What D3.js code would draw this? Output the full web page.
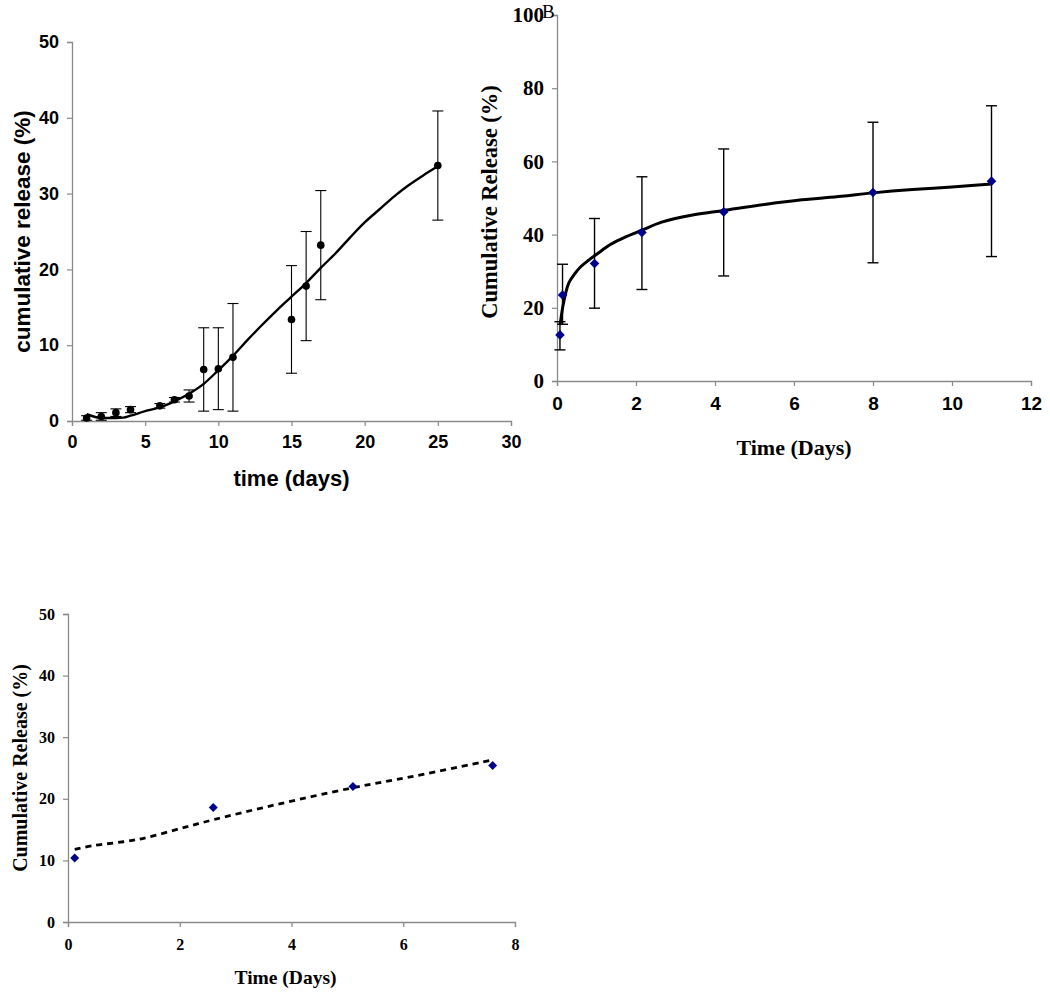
<!DOCTYPE html>
<html><head><meta charset="utf-8">
<script src="https://cdn.jsdelivr.net/npm/d3@7"></script>
<style>body{margin:0;background:#fff}svg{display:block}</style>
</head><body>
<script>
// ---------- Panel A data ----------
const aTimes   = [1, 2, 3, 4, 6, 7, 8, 9, 10, 11, 15, 16, 17, 25];
const aRelease = [0.4, 0.6, 1.1, 1.5, 2.0, 2.8, 3.3, 6.8, 6.9, 8.4, 13.4, 17.8, 23.2, 33.7];
const aError   = [0.3, 0.5, 0.5, 0.4, 0.3, 0.3, 0.8, 5.5, 5.4, 7.1, 7.1, 7.2, 7.2, 7.2];
const aFitX    = [1, 2, 3, 3.5, 4, 5, 6, 7, 8, 9, 10, 11, 12, 13, 14, 15, 16, 17, 18, 19, 20, 21, 22, 23, 24, 25];
const aFitY    = [0.9, 0.4, 0.4, 0.45, 0.7, 1.3, 1.8, 2.6, 3.6, 4.9, 6.7, 8.6, 10.7, 12.7, 14.6, 16.4, 18.2, 20.2, 22.1, 24.2, 26.2, 27.9, 29.6, 31.1, 32.4, 33.6];
const aXTicks  = [0, 5, 10, 15, 20, 25, 30];
const aYTicks  = [0, 10, 20, 30, 40, 50];

// ---------- Panel B data ----------
const bTimes   = [0.075, 0.14, 0.95, 2.15, 4.22, 8.0, 11.0];
const bRelease = [12.6, 23.5, 32.1, 40.6, 46.2, 51.5, 54.6];
const bErrLow  = [8.5, 15.5, 19.9, 25.0, 28.7, 32.3, 34.0];
const bErrHigh = [16.2, 31.9, 44.4, 55.8, 63.4, 70.7, 75.2];
const bFitX    = [0.08, 0.15, 0.22, 0.3, 0.45, 0.6, 0.8, 0.95, 1.15, 1.35, 1.7, 2.15, 2.65, 3.4, 4.22, 5.3, 6.2, 7.2, 8.0, 9.0, 10.0, 11.0];
const bFitY    = [15.5, 20.5, 24.0, 26.8, 29.3, 31.2, 33.0, 34.2, 35.8, 37.3, 39.2, 41.2, 43.4, 45.3, 46.6, 48.3, 49.5, 50.5, 51.4, 52.3, 53.0, 53.8];
const bXTicks  = [0, 2, 4, 6, 8, 10, 12];
const bYTicks  = [0, 20, 40, 60, 80, 100];

// ---------- Panel C data ----------
const cTimes   = [0.12, 2.6, 5.1, 7.6];
const cRelease = [10.4, 18.6, 22.0, 25.4];
const cFitX    = [0.12, 0.45, 1.25, 2.1, 2.6, 3.7, 5.1, 6.15, 7.6];
const cFitY    = [11.8, 12.4, 13.4, 15.4, 16.6, 19.0, 21.8, 23.6, 26.3];
const cXTicks  = [0, 2, 4, 6, 8];
const cYTicks  = [0, 10, 20, 30, 40, 50];

const SANS = "'Liberation Sans', Arial, sans-serif";
const SERIF = "'Liberation Serif', 'Times New Roman', serif";
const AXIS_COLOR = "#8a8a8a";
const NAVY = "#00008b";

const svg = d3.select("body").append("svg").attr("width", 1050).attr("height", 992);

function drawAxes(g, x, y, xTicks, yTicks, o) {
  const xa = g.append("g").attr("transform", `translate(0,${y.range()[0]})`)
    .call(d3.axisBottom(x).tickValues(xTicks).tickSizeOuter(0).tickSize(5).tickPadding(o.xPad).tickFormat(d3.format("d")));
  const ya = g.append("g").attr("transform", `translate(${x.range()[0]},0)`)
    .call(d3.axisLeft(y).tickValues(yTicks).tickSizeOuter(0).tickSize(5).tickPadding(o.yPad).tickFormat(d3.format("d")));
  [xa, ya].forEach(a => {
    a.select(".domain").attr("stroke", AXIS_COLOR).attr("stroke-width", 1.3);
    a.selectAll(".tick line").attr("stroke", AXIS_COLOR).attr("stroke-width", 1.2);
  });
  xa.selectAll(".tick text").attr("fill", "#000").style("font-family", o.xFont).style("font-weight", "bold").style("font-size", o.xSize + "px");
  ya.selectAll(".tick text").attr("fill", "#000").style("font-family", o.yFont).style("font-weight", "bold").style("font-size", o.ySize + "px");
}

function errorBars(g, x, y, xs, lows, highs, cap, width) {
  const eb = g.append("g").attr("stroke", "#000").attr("stroke-width", width).attr("fill", "none");
  xs.forEach((xv, i) => {
    const px = x(xv), y1 = y(lows[i]), y2 = y(highs[i]);
    eb.append("line").attr("x1", px).attr("x2", px).attr("y1", y1).attr("y2", y2);
    eb.append("line").attr("x1", px - cap / 2).attr("x2", px + cap / 2).attr("y1", y1).attr("y2", y1);
    eb.append("line").attr("x1", px - cap / 2).attr("x2", px + cap / 2).attr("y1", y2).attr("y2", y2);
  });
}

// ================= Panel A =================
{
  const g = svg.append("g");
  const x = d3.scaleLinear().domain([0, 30]).range([72, 511]);
  const y = d3.scaleLinear().domain([0, 50]).range([421, 42]);
  drawAxes(g, x, y, aXTicks, aYTicks, {xPad: 9, yPad: 8, xFont: SANS, yFont: SANS, xSize: 18, ySize: 18});
  errorBars(g, x, y, aTimes, aRelease.map((v, i) => Math.max(0, v - aError[i])), aRelease.map((v, i) => v + aError[i]), 11, 1.1);
  const line = d3.line().x((d, i) => x(aFitX[i])).y(d => y(d)).curve(d3.curveMonotoneX);
  g.append("path").datum(aFitY).attr("d", line).attr("fill", "none").attr("stroke", "#000").attr("stroke-width", 2.4);
  g.selectAll("circle.a").data(aRelease).enter().append("circle")
    .attr("cx", (d, i) => x(aTimes[i])).attr("cy", d => y(d)).attr("r", 3.8).attr("fill", "#000");
  g.append("text").attr("x", (x(0) + x(30)) / 2).attr("y", 486).attr("text-anchor", "middle")
    .style("font-family", SANS).style("font-weight", "bold").style("font-size", "22px").text("time (days)");
  g.append("text").attr("transform", `translate(30,${(y(0) + y(50)) / 2}) rotate(-90)`).attr("text-anchor", "middle")
    .style("font-family", SANS).style("font-weight", "bold").style("font-size", "22.5px").text("cumulative release (%)");
}

// ================= Panel B =================
{
  const g = svg.append("g");
  const x = d3.scaleLinear().domain([0, 12]).range([557, 1031]);
  const y = d3.scaleLinear().domain([0, 100]).range([381, 15]);
  drawAxes(g, x, y, bXTicks, bYTicks, {xPad: 11, yPad: 8, xFont: SANS, yFont: SERIF, xSize: 19, ySize: 21});
  errorBars(g, x, y, bTimes, bErrLow, bErrHigh, 11, 1.4);
  const line = d3.line().x((d, i) => x(bFitX[i])).y(d => y(d)).curve(d3.curveCatmullRom.alpha(0.5));
  g.append("path").datum(bFitY).attr("d", line).attr("fill", "none").attr("stroke", "#000").attr("stroke-width", 3);
  const sym = d3.symbol().type(d3.symbolSquare).size(46);
  g.selectAll("path.bd").data(bRelease).enter().append("path")
    .attr("d", sym).attr("fill", NAVY)
    .attr("transform", (d, i) => `translate(${x(bTimes[i])},${y(d)}) rotate(45)`);
  g.append("text").attr("x", 542).attr("y", 18)
    .style("font-family", SERIF).style("font-size", "19px").text("B");
  g.append("text").attr("x", (x(0) + x(12)) / 2).attr("y", 455).attr("text-anchor", "middle")
    .style("font-family", SERIF).style("font-weight", "bold").style("font-size", "22px").text("Time (Days)");
  g.append("text").attr("transform", `translate(497,${(y(0) + y(100)) / 2 + 4}) rotate(-90)`).attr("text-anchor", "middle")
    .style("font-family", SERIF).style("font-weight", "bold").style("font-size", "22.5px").text("Cumulative Release (%)");
}

// ================= Panel C =================
{
  const g = svg.append("g");
  const x = d3.scaleLinear().domain([0, 8]).range([68, 515]);
  const y = d3.scaleLinear().domain([0, 50]).range([922, 614]);
  drawAxes(g, x, y, cXTicks, cYTicks, {xPad: 12, yPad: 8, xFont: SERIF, yFont: SERIF, xSize: 16, ySize: 16});
  const line = d3.line().x((d, i) => x(cFitX[i])).y(d => y(d)).curve(d3.curveCatmullRom.alpha(0.5));
  g.append("path").datum(cFitY).attr("d", line).attr("fill", "none").attr("stroke", "#000")
    .attr("stroke-width", 2.8).attr("stroke-dasharray", "6,5");
  const sym = d3.symbol().type(d3.symbolSquare).size(40);
  g.selectAll("path.cd").data(cRelease).enter().append("path")
    .attr("d", sym).attr("fill", NAVY)
    .attr("transform", (d, i) => `translate(${x(cTimes[i])},${y(d)}) rotate(45)`);
  g.append("text").attr("x", (x(0) + x(8)) / 2 - 6).attr("y", 984).attr("text-anchor", "middle")
    .style("font-family", SERIF).style("font-weight", "bold").style("font-size", "19.5px").text("Time (Days)");
  g.append("text").attr("transform", `translate(27,${(y(0) + y(50)) / 2}) rotate(-90)`).attr("text-anchor", "middle")
    .style("font-family", SERIF).style("font-weight", "bold").style("font-size", "20px").text("Cumulative Release (%)");
}
</script>
</body></html>
